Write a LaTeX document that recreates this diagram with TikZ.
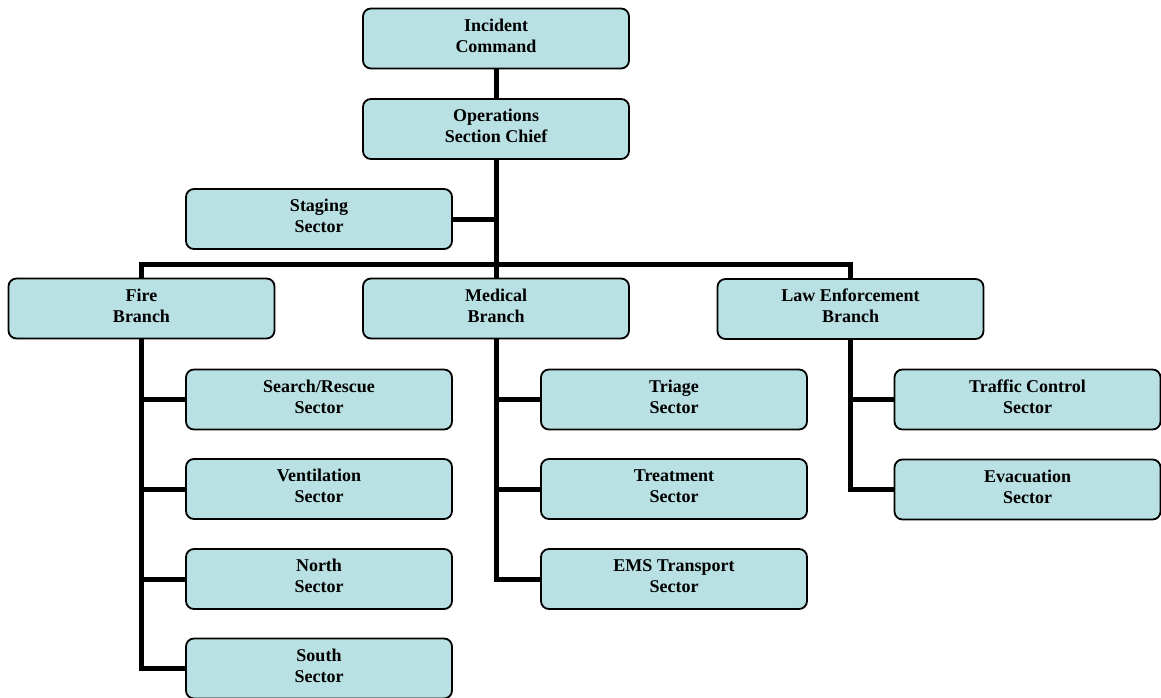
\documentclass[tikz,border=0pt]{standalone}
\usepackage{fontspec}
\setmainfont{Liberation Serif}
\definecolor{boxfill}{RGB}{185,224,226}

\begin{document}
\begin{tikzpicture}[
    x=1pt, y=-1pt,
    unitbox/.style ={draw=black, line width=1.8pt, fill=boxfill, rounded corners=8pt,
                     minimum width=266pt, minimum height=60pt, inner sep=0pt,
                     text depth=6pt, align=center,
                     font=\fontsize{18}{21}\selectfont\bfseries},
    link/.style    ={line width=5pt, draw=black}
]
\useasboundingbox (0,0) rectangle (1161,698);

% ---------- command and section ----------
\node[unitbox] (inc) at (496,38.5) {Incident\\Command};
\node[unitbox] (ops) at (496,129)  {Operations\\Section Chief};
\node[unitbox] (stg) at (319,219)  {Staging\\Sector};

% ---------- branches ----------
\node[unitbox] (fire) at (141.5,308.5) {Fire\\Branch};
\node[unitbox] (med)  at (496,308.5)   {Medical\\Branch};
\node[unitbox] (law)  at (850.5,309)   {Law Enforcement\\Branch};

% ---------- fire sectors ----------
\node[unitbox] (srch)  at (319,399.5) {Search/Rescue\\Sector};
\node[unitbox] (vent)  at (319,489)   {Ventilation\\Sector};
\node[unitbox] (north) at (319,579)   {North\\Sector};
\node[unitbox] (south) at (319,668.5) {South\\Sector};

% ---------- medical sectors ----------
\node[unitbox] (triage) at (674,399.5) {Triage\\Sector};
\node[unitbox] (treat)  at (674,489)   {Treatment\\Sector};
\node[unitbox] (ems)    at (674,579)   {EMS Transport\\Sector};

% ---------- law enforcement sectors ----------
\node[unitbox] (traffic) at (1027.5,399.5) {Traffic Control\\Sector};
\node[unitbox] (evac)    at (1027.5,489.5) {Evacuation\\Sector};

% ---------- chain of command ----------
\coordinate (bus) at (496,264);
\draw[link] (inc) -- (ops);
\draw[link] (ops) -- (med);
\draw[link] (stg.east) -- (stg.east -| ops.south);
\draw[link] (fire.north) |- (bus) -| (law.north);

% ---------- branch to sector links ----------
\draw[link] (fire.south) |- (south.west);
\foreach \s in {srch,vent,north}
    \draw[link] (fire.south |- \s.west) -- (\s.west);
\draw[link] (med.south) |- (ems.west);
\foreach \s in {triage,treat}
    \draw[link] (med.south |- \s.west) -- (\s.west);
\draw[link] (law.south) |- (evac.west);
\draw[link] (law.south |- traffic.west) -- (traffic.west);

\end{tikzpicture}
\end{document}
